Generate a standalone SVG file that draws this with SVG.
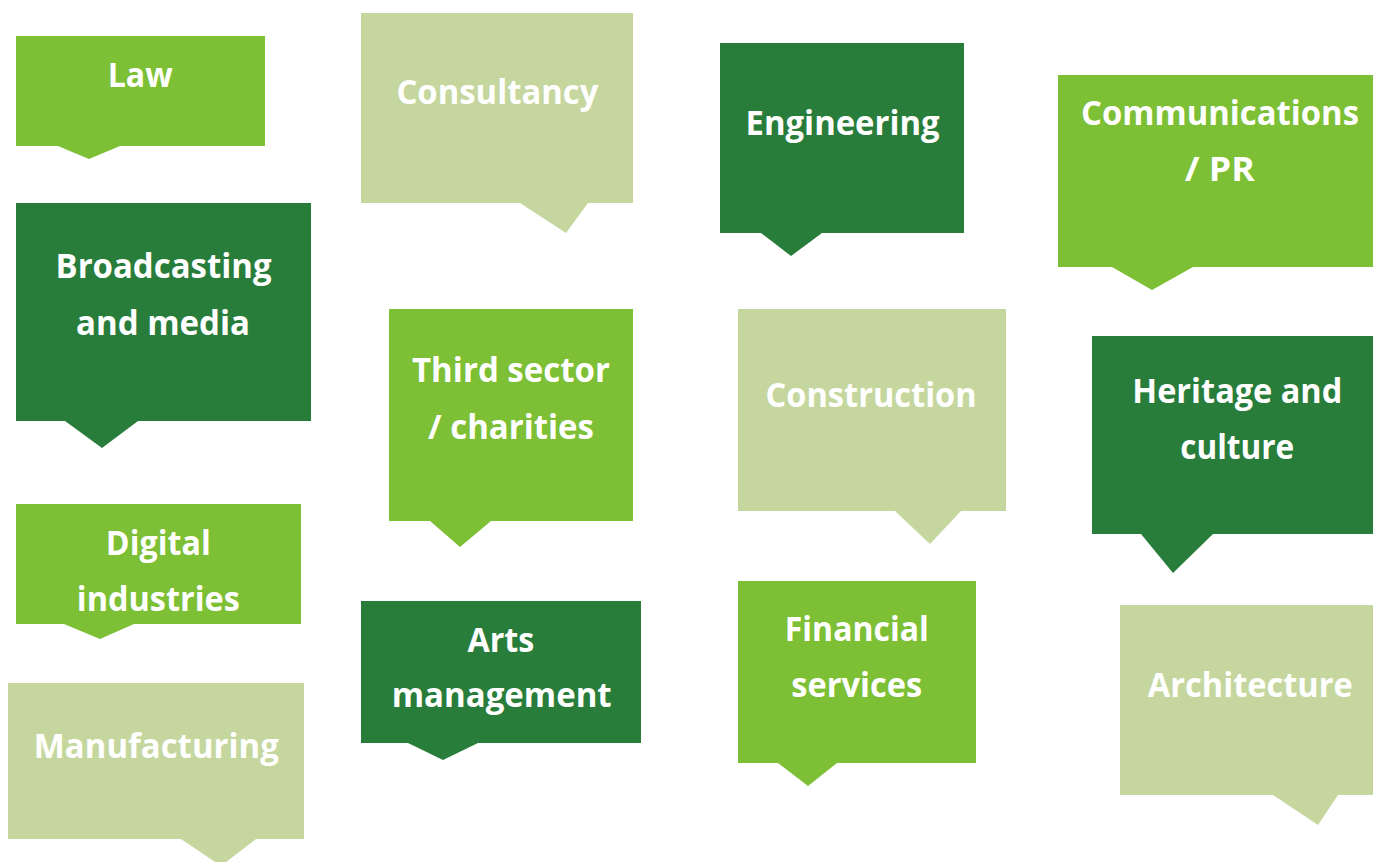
<svg xmlns="http://www.w3.org/2000/svg" width="1373" height="862" viewBox="0 0 1373 862">
<style>
.l{fill:#7DBF35}
.d{fill:#287D3B}
.p{fill:#C5D79E}
text{font-family:"Open Sans","Liberation Sans",sans-serif;font-weight:bold;font-size:34px;fill:#FFFFFF;text-anchor:middle}
</style>
<rect width="1373" height="862" fill="#FFFFFF"/>
<g id="connectors"/>
<g id="law"><path class="l" d="M16,36H265V146H120L89,159L58,146H16Z"/><text x="140.2" y="86.7" textLength="65" lengthAdjust="spacingAndGlyphs">Law</text></g>
<g id="consultancy"><path class="p" d="M361,13H633V203H588L566,233L520,203H361Z"/><text x="497.4" y="104.3" textLength="202" lengthAdjust="spacingAndGlyphs">Consultancy</text></g>
<g id="broadcasting"><path class="d" d="M16,203H311V421H138L102,448L65,421H16Z"/><text x="163.5" y="278.3" textLength="216" lengthAdjust="spacingAndGlyphs">Broadcasting</text><text x="163" y="335" textLength="174" lengthAdjust="spacingAndGlyphs">and media</text></g>
<g id="third-sector"><path class="l" d="M389,309H633V521H491L460,547L430,521H389Z"/><text x="511" y="382.3" textLength="198" lengthAdjust="spacingAndGlyphs">Third sector</text><text x="511" y="438.7" textLength="166" lengthAdjust="spacingAndGlyphs">/ charities</text></g>
<g id="engineering"><path class="d" d="M720,43H964V233H822L791,256L761,233H720Z"/><text x="842.6" y="135" textLength="194" lengthAdjust="spacingAndGlyphs">Engineering</text></g>
<g id="communications"><path class="l" d="M1058,75H1373V267H1193L1152,290L1112,267H1058Z"/><text x="1220" y="125" textLength="278" lengthAdjust="spacingAndGlyphs">Communications</text><text x="1219.8" y="181" textLength="70" lengthAdjust="spacingAndGlyphs">/ PR</text></g>
<g id="construction"><path class="p" d="M738,309H1006V511H961L930,544L895,511H738Z"/><text x="871.1" y="406.7" textLength="211" lengthAdjust="spacingAndGlyphs">Construction</text></g>
<g id="heritage"><path class="d" d="M1092,336H1373V534H1213L1173,573L1141,534H1092Z"/><text x="1237.3" y="402.7" textLength="210" lengthAdjust="spacingAndGlyphs">Heritage and</text><text x="1237.2" y="459" textLength="114" lengthAdjust="spacingAndGlyphs">culture</text></g>
<g id="digital"><path class="l" d="M16,504H301V624H134L100,639L64,624H16Z"/><text x="158.3" y="555" textLength="105" lengthAdjust="spacingAndGlyphs">Digital</text><text x="158.3" y="610.7" textLength="163" lengthAdjust="spacingAndGlyphs">industries</text></g>
<g id="manufacturing"><path class="p" d="M8,683H304V839H256L221,866L181,839H8Z"/><text x="156.3" y="757.7" textLength="245" lengthAdjust="spacingAndGlyphs">Manufacturing</text></g>
<g id="arts"><path class="d" d="M361,601H641V743H478L443,760L408,743H361Z"/><text x="500.9" y="651.7" textLength="67" lengthAdjust="spacingAndGlyphs">Arts</text><text x="501.7" y="707.3" textLength="220" lengthAdjust="spacingAndGlyphs">management</text></g>
<g id="financial"><path class="l" d="M738,581H976V763H837L808,786L778,763H738Z"/><text x="856.8" y="640.7" textLength="144" lengthAdjust="spacingAndGlyphs">Financial</text><text x="856.8" y="696.7" textLength="131" lengthAdjust="spacingAndGlyphs">services</text></g>
<g id="architecture"><path class="p" d="M1120,605H1373V795H1338L1318,825L1273,795H1120Z"/><text x="1250.3" y="696.7" textLength="205" lengthAdjust="spacingAndGlyphs">Architecture</text></g>
</svg>
